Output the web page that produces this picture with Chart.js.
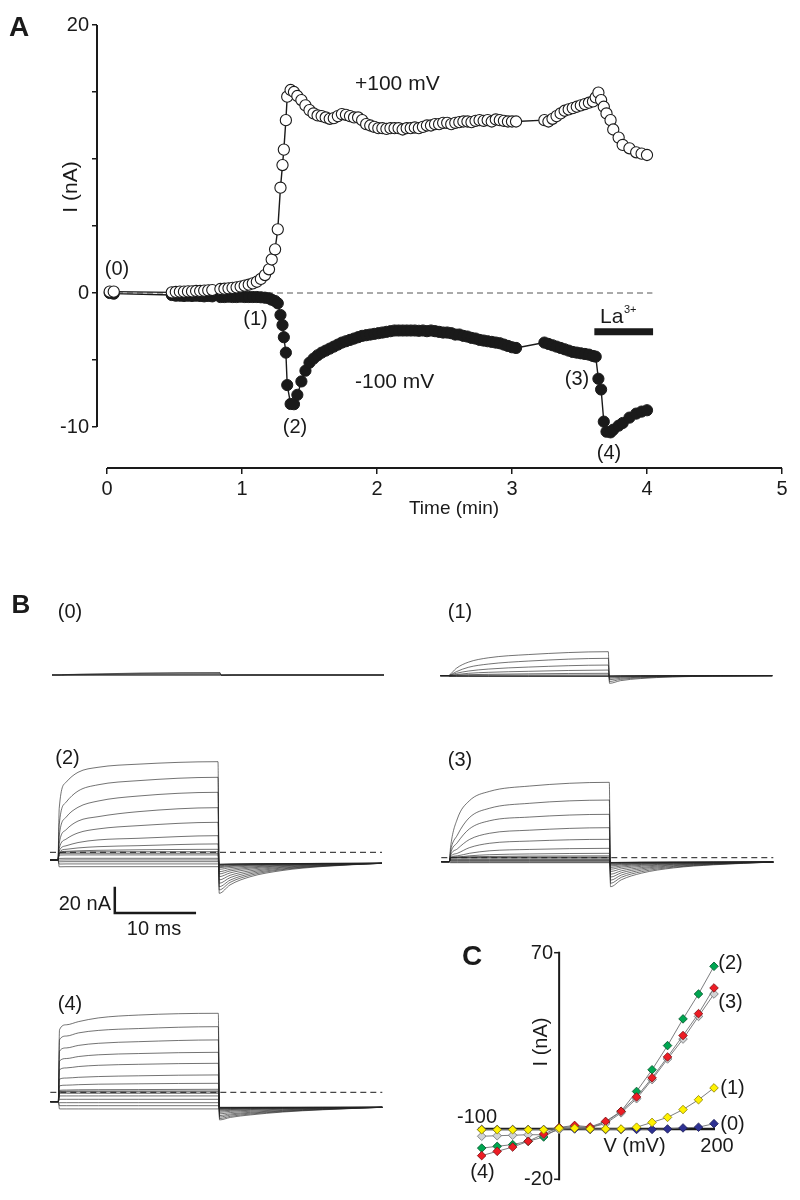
<!DOCTYPE html>
<html><head><meta charset="utf-8">
<script src="https://cdn.jsdelivr.net/npm/chart.js@4.4.1/dist/chart.umd.min.js"></script>
<style>
html,body{margin:0;padding:0;background:#fff;}
#wrap{position:relative;width:800px;height:1200px;overflow:hidden;}
canvas{position:absolute;left:0;top:0;}
</style></head><body>
<div id="wrap">
<canvas id="cA" width="800" height="1200"></canvas>
<canvas id="cB" width="800" height="1200"></canvas>
<canvas id="cC" width="800" height="1200"></canvas>
</div>
<script>
// ================= DATA =================
// ---- Panel A: current at +100 / -100 mV vs time ----
const timeMin = [0.02,0.05,0.48,0.51,0.54,0.57,0.60,0.63,0.66,0.69,0.72,0.75,0.78,
 0.84,0.87,0.90,0.93,0.96,0.99,1.02,1.05,1.08,1.11,1.14,
 1.17,1.20,1.22,1.245,1.265,1.285,1.30,1.31,1.325,1.335,1.36,1.385,1.41,
 1.44,1.47,1.50,1.53,1.56,1.59,1.62,1.65,1.68,1.71,1.74,1.77,1.80,1.83,1.86,1.89,1.92,1.95,1.98,
 2.01,2.04,2.07,2.10,2.13,2.16,2.19,2.22,2.25,2.28,2.31,2.34,2.37,2.40,2.43,2.46,2.49,2.52,2.55,
 2.58,2.61,2.64,2.67,2.70,2.73,2.76,2.79,2.82,2.85,2.88,2.91,2.94,2.97,3.00,3.03,
 3.24,3.27,3.30,3.33,3.36,3.39,3.42,3.45,3.48,3.51,3.54,3.57,3.60,3.62,3.64,3.66,3.68,3.70,3.73,3.75,
 3.79,3.82,3.87,3.92,3.96,4.00];
const currentPlus100 = [0.1,0.1,0.05,0.08,0.1,0.1,0.12,0.12,0.15,0.15,0.18,0.2,0.22,
 0.3,0.32,0.35,0.38,0.42,0.48,0.55,0.62,0.72,0.84,1.05,
 1.34,1.77,2.5,3.26,4.75,7.86,9.55,10.7,12.9,14.65,15.15,15.0,14.7,
 14.4,14.0,13.65,13.4,13.25,13.2,13.1,13.0,13.05,13.2,13.35,13.3,13.2,13.1,13.1,12.9,12.6,12.5,12.4,
 12.3,12.3,12.25,12.3,12.3,12.3,12.2,12.3,12.3,12.35,12.3,12.4,12.5,12.5,12.6,12.6,12.7,12.7,12.6,
 12.7,12.75,12.8,12.8,12.75,12.85,12.9,12.85,12.9,12.8,12.95,12.9,12.85,12.8,12.8,12.8,
 12.9,12.8,13.0,13.2,13.4,13.6,13.7,13.8,13.9,14.0,14.1,14.2,14.3,14.6,14.95,14.4,13.9,13.4,12.9,12.2,
 11.6,11.05,10.8,10.5,10.4,10.3];
const currentMinus100 = [0.0,-0.05,-0.15,-0.2,-0.2,-0.22,-0.2,-0.22,-0.2,-0.22,-0.25,-0.22,-0.25,
 -0.3,-0.3,-0.28,-0.3,-0.3,-0.28,-0.3,-0.3,-0.3,-0.3,-0.32,
 -0.35,-0.4,-0.5,-0.6,-0.77,-1.64,-2.39,-3.3,-4.45,-6.87,-8.28,-8.3,-7.6,
 -6.6,-5.8,-5.2,-4.9,-4.65,-4.45,-4.3,-4.15,-4.0,-3.85,-3.7,-3.6,-3.5,-3.4,-3.3,-3.2,-3.15,-3.1,-3.05,
 -3.0,-2.95,-2.9,-2.85,-2.8,-2.8,-2.8,-2.8,-2.8,-2.8,-2.82,-2.8,-2.85,-2.8,-2.85,-2.9,-2.95,-2.95,-3.0,
 -3.1,-3.1,-3.2,-3.25,-3.35,-3.4,-3.5,-3.55,-3.6,-3.65,-3.7,-3.75,-3.85,-3.95,-4.05,-4.1,
 -3.7,-3.8,-3.9,-4.0,-4.1,-4.2,-4.3,-4.4,-4.45,-4.5,-4.55,-4.6,-4.7,-4.75,-6.4,-7.2,-9.6,-10.35,-10.4,-10.2,
 -9.9,-9.7,-9.3,-9.0,-8.85,-8.75];
const zeroLineMin = [0, 4.04];
const laBarMin = [3.61, 4.045];
const laBarLevel = -2.9;
const tickTimeA = [0,1,2,3,4,5];
const tickCurrentA = [-10,-5,0,5,10,15,20];
const labelledCurrentA = [20,0,-10];

// ---- Panel B: current traces (nA) sampled at these times (ms from step onset) ----
const traceTimeMs = [-1,0,0.15,1,2.5,5,10,20,20.15,21.5,24,28,33,40.5];
// each row: [0.15, 1, 2.5, 5, 10, 20 ms during step | tail at 0.15, 1.5, 4, 8, 13 ms]
const holdP0 = 0, tailEndP0 = 0;
const tracesP0 = [
 [0.2,0.4,0.6,0.9,1.6,2.0,-0.3,-0.1,0,0,0],
 [0.1,0.3,0.5,0.7,1.2,1.4,-0.2,0,0,0,0],
 [0.1,0.2,0.3,0.4,0.6,0.8,-0.1,0,0,0,0],
 [0,0.1,0.1,0.2,0.2,0.3,0,0,0,0,0],
 [-0.3,-0.3,-0.3,-0.3,-0.3,-0.3,0,0,0,0,0]];
const holdP1 = 0, tailEndP1 = 0;
const tracesP1 = [
 [0.5,5.9,10.8,14.3,16.9,19.2,-6.1,-4.0,-2.3,-1.0,-0.4],
 [0.3,3.2,6.7,9.3,11.7,13.9,-4.6,-3.0,-1.7,-0.8,-0.3],
 [0.2,1.9,3.7,5.3,6.9,8.5,-3.2,-2.1,-1.2,-0.5,-0.2],
 [0.1,0.9,1.9,2.7,3.5,4.5,-2.0,-1.3,-0.8,-0.3,-0.1],
 [0,0.4,0.8,1.1,1.5,1.9,-1.2,-0.8,-0.5,-0.2,-0.1],
 [0,0.2,0.3,0.4,0.5,0.6,-0.6,-0.4,-0.2,-0.1,0],
 [-0.2,-0.2,-0.2,-0.2,-0.2,-0.2,-0.3,-0.2,-0.1,0,0],
 [-0.4,-0.4,-0.4,-0.4,-0.4,-0.4,-0.3,-0.2,-0.1,0,0],
 [-0.6,-0.6,-0.6,-0.6,-0.6,-0.6,-0.2,-0.1,0,0,0]];
const holdP2 = -6.1, tailEndP2 = -8.8;
const tracesP2 = [
 [35,56,64,68,70.5,72.5,-32.8,-26.1,-19.6,-14.6,-11.4],
 [22,40,49,54,57.3,60,-30.1,-24.1,-18.4,-13.9,-11.1],
 [13,28,36,41,45,48,-27.5,-22.3,-17.2,-13.3,-10.9],
 [7,18,25,28.5,32.5,35.7,-24.8,-20.3,-16.0,-12.6,-10.6],
 [3,10.5,15.5,18.7,21.3,24,-22.1,-18.4,-14.8,-12.0,-10.3],
 [1,5.2,7.8,9.9,11.2,13.3,-19.5,-16.5,-13.6,-11.4,-10.0],
 [0,2.4,3.5,4.5,5.3,6.7,-17.3,-14.9,-12.6,-10.8,-9.7],
 [-0.5,0.8,1.2,1.6,2.0,2.4,-15.5,-13.6,-11.8,-10.4,-9.5],
 [-0.5,0.2,0.3,0.4,0.45,0.5,-13.6,-12.3,-11.0,-10.0,-9.3],
 [-0.9,-0.8,-0.8,-0.8,-0.8,-0.8,-12.3,-11.3,-10.4,-9.6,-9.2],
 [-2.2,-2.1,-2.1,-2.1,-2.1,-2.1,-11.5,-10.7,-10.0,-9.5,-9.1],
 [-4.9,-4.8,-4.8,-4.8,-4.8,-4.8,-10.7,-10.2,-9.7,-9.3,-9.0],
 [-6.2,-6.1,-6.1,-6.1,-6.1,-6.1,-10.1,-9.7,-9.4,-9.1,-8.9],
 [-7.6,-7.5,-7.5,-7.5,-7.5,-7.5,-9.9,-9.6,-9.3,-9.1,-8.9],
 [-9.4,-9.3,-9.3,-9.3,-9.3,-9.3,-9.6,-9.4,-9.2,-9.0,-8.9],
 [-11.6,-11.5,-11.5,-11.5,-11.5,-11.5,-9.6,-9.4,-9.2,-9.0,-8.9]];
const holdP3 = -3.2, tailEndP3 = -3.5;
const tracesP3 = [
 [8,31,45.5,53,57.3,60.3,-23.2,-17.7,-12.4,-8.2,-5.7],
 [5,18,32,39.5,43.5,46.1,-20.5,-15.7,-11.2,-7.6,-5.4],
 [3,12,23,29.5,32.5,34.7,-18.0,-13.9,-10.0,-7.0,-5.1],
 [1.5,7,14.5,19.5,22,24,-15.5,-12.1,-8.9,-6.4,-4.8],
 [0.5,3.5,8,11.5,13.3,14.7,-13.2,-10.5,-7.9,-5.8,-4.6],
 [0,1.5,3.5,5.5,6.6,7.5,-11.0,-8.9,-6.9,-5.3,-4.3],
 [0,0.6,1.5,2.4,3.0,3.5,-9.2,-7.6,-6.1,-4.9,-4.1],
 [0,0.3,0.7,1.0,1.3,1.5,-7.8,-6.6,-5.4,-4.5,-4.0],
 [0,0.2,0.3,0.4,0.45,0.5,-6.6,-5.7,-4.9,-4.2,-3.8],
 [0,0,0,0,0,0,-5.7,-5.1,-4.5,-4.0,-3.7],
 [-1,-1,-1,-1,-1,-1,-5.0,-4.6,-4.2,-3.9,-3.7],
 [-1.6,-1.6,-1.6,-1.6,-1.6,-1.6,-4.5,-4.2,-4.0,-3.7,-3.6],
 [-2.2,-2.2,-2.2,-2.2,-2.2,-2.2,-4.2,-4.0,-3.8,-3.7,-3.6],
 [-2.8,-2.8,-2.8,-2.8,-2.8,-2.8,-4.0,-3.9,-3.7,-3.6,-3.6],
 [-3.5,-3.5,-3.5,-3.5,-3.5,-3.5,-3.9,-3.8,-3.7,-3.6,-3.5],
 [-4.0,-4.0,-4.0,-4.0,-4.0,-4.0,-3.8,-3.7,-3.6,-3.6,-3.5]];
const holdP4 = -7.5, tailEndP4 = -12.0;
const tracesP4 = [
 [50,54,56.5,59.5,61.8,63.2,-22.1,-20.1,-18.1,-15.8,-14.0],
 [42,45,47.5,49.5,51,52.5,-21.0,-19.2,-17.4,-15.4,-13.8],
 [33,35.5,37.5,39.2,40.5,41.9,-19.8,-18.2,-16.7,-15.0,-13.6],
 [25,27,28.6,30,31,32,-18.6,-17.3,-16.0,-14.5,-13.3],
 [18,19.5,20.6,21.6,22.4,23.2,-17.3,-16.2,-15.2,-14.0,-13.1],
 [10.5,11.4,12,12.6,13.2,13.9,-16.0,-15.2,-14.4,-13.5,-12.8],
 [5.2,5.7,6.1,6.5,6.8,7.2,-15.0,-14.4,-13.8,-13.1,-12.6],
 [1.6,1.8,2.0,2.1,2.2,2.4,-14.2,-13.8,-13.3,-12.8,-12.4],
 [0.8,0.9,1.0,1.0,1.05,1.1,-13.6,-13.3,-13.0,-12.6,-12.3],
 [0.3,0.3,0.3,0.3,0.3,0.3,-13.2,-13.0,-12.7,-12.5,-12.2],
 [-0.8,-0.8,-0.8,-0.8,-0.8,-0.8,-12.9,-12.7,-12.5,-12.3,-12.2],
 [-2.9,-2.9,-2.9,-2.9,-2.9,-2.9,-12.6,-12.5,-12.4,-12.2,-12.1],
 [-5.6,-5.6,-5.6,-5.6,-5.6,-5.6,-12.4,-12.3,-12.2,-12.2,-12.1],
 [-8.3,-8.3,-8.3,-8.3,-8.3,-8.3,-12.2,-12.2,-12.1,-12.1,-12.0],
 [-10.7,-10.7,-10.7,-10.7,-10.7,-10.7,-12.1,-12.1,-12.1,-12.0,-12.0],
 [-13.3,-13.3,-13.3,-13.3,-13.3,-13.3,-12.0,-12.0,-12.0,-12.0,-12.0]];
const zeroLineMs = [-1, 40.5];
const scaleBarMs = [7.1, 7.1, 17.1];
const scaleBarNA = [-28.6, -48.6, -48.6];

// ---- Panel C: I-V relations ----
const ivVolt = [-100,-80,-60,-40,-20,0,20,40,60,80,100,120,140,160,180,200];
const ivCurrent0 = [-0.2,-0.2,-0.2,-0.2,-0.2,0,0,-0.2,-0.2,-0.2,-0.2,-0.2,0,0.4,0.7,2.1];
const ivCurrent1 = [-0.3,-0.3,-0.3,-0.3,-0.3,0.3,0.3,0,0,0,0.7,2.6,4.6,7.7,11.6,16.3];
const ivCurrent2 = [-7.6,-6.9,-6.2,-4.9,-3.2,0.4,1.0,0.6,2.6,7.0,14.9,23.5,33.1,43.7,53.6,64.6];
const ivCurrent3 = [-2.9,-2.7,-2.5,-2.3,-2.3,-0.3,0.6,0.6,2.1,6.4,12.0,19.6,27.8,35.7,44.7,53.6];
const ivCurrent4 = [-10.6,-8.9,-7.2,-4.9,-2.0,0.6,1.4,0.8,3.0,7.0,12.7,20.3,28.6,37.1,45.8,56.0];
const ivAxisVolt = [-104.8, 201.3];
const ivAxisCurrent = [-20, 70];

// ================= STYLE / LAYOUT =================
const FONT = '"Liberation Sans", Arial, Helvetica, sans-serif';
const INK = '#1a1a1a';
Chart.defaults.font.family = FONT;
Chart.defaults.color = INK;

function textPlugin(id, items){
  return {id, afterDraw(chart){
    const ctx = chart.ctx; ctx.save(); ctx.fillStyle = INK;
    for (const it of items){
      ctx.font = (it.bold?'bold ':'') + it.size + 'px ' + FONT;
      ctx.textAlign = it.align || 'center';
      ctx.textBaseline = it.base || 'middle';
      if (it.rot){ ctx.save(); ctx.translate(it.x,it.y); ctx.rotate(it.rot); ctx.fillText(it.t,0,0); ctx.restore(); }
      else ctx.fillText(it.t, it.x, it.y);
    }
    ctx.restore();
  }};
}
const pts = (xs, ys) => xs.map((x,i)=>({x, y: Array.isArray(ys)? ys[i] : ys}));
const common = {responsive:false, animation:false, events:[], plugins:{legend:{display:false}, tooltip:{enabled:false}}};

// ---------- Chart A ----------
const geoA = {x0:107, x5:782, y20:25, y0:293, xAxisY:468, yAxisX:97};
const kxA = (geoA.x5-geoA.x0)/5, kyA = (geoA.y0-geoA.y20)/20;
const xMinA = -(geoA.x0-geoA.yAxisX)/kxA;
const yMinA = -(geoA.xAxisY-geoA.y0)/kyA;
const YW = 40, XH = 50;
new Chart(document.getElementById('cA'), {
  type:'line',
  data:{datasets:[
    {data:pts(timeMin,currentPlus100), borderColor:INK, borderWidth:1.4, pointRadius:5.6, pointBackgroundColor:'#fff', pointBorderColor:INK, pointBorderWidth:1.1, clip:false},
    {data:pts(timeMin,currentMinus100), borderColor:INK, borderWidth:1.4, pointRadius:5.6, pointBackgroundColor:INK, pointBorderColor:INK, pointBorderWidth:1, clip:false},
    {data:pts(zeroLineMin,0), borderColor:'#555', borderWidth:1, borderDash:[6,4], pointRadius:0},
    {data:pts(laBarMin,laBarLevel), borderColor:INK, borderWidth:7, borderCapStyle:'butt', pointRadius:0},
    {data:[{x:xMinA,y:20},{x:xMinA,y:-10}], borderColor:INK, borderWidth:2, pointRadius:0, clip:false},
    {data:[{x:0,y:yMinA},{x:5,y:yMinA}], borderColor:INK, borderWidth:2, pointRadius:0, clip:false}
  ]},
  options:Object.assign({}, common, {
    layout:{autoPadding:false, padding:{left:geoA.yAxisX-YW, right:800-geoA.x5, top:geoA.y20, bottom:1200-geoA.xAxisY-XH}},
    scales:{
      x:{type:'linear', min:xMinA, max:5, position:'bottom',
        afterBuildTicks:s=>{s.ticks = tickTimeA.map(v=>({value:v}));},
        afterFit:s=>{s.height = XH;},
        border:{display:false},
        grid:{drawOnChartArea:false, drawTicks:true, tickLength:6, color:INK, lineWidth:1.5},
        ticks:{autoSkip:false, maxRotation:0, padding:3, color:INK, font:{size:20}, callback:v=>String(v)}},
      y:{type:'linear', min:yMinA, max:20, position:'left',
        afterBuildTicks:s=>{s.ticks = tickCurrentA.map(v=>({value:v}));},
        afterFit:s=>{s.width = YW;},
        border:{display:false},
        grid:{drawOnChartArea:false, drawTicks:true, tickLength:5, color:INK, lineWidth:1.5},
        ticks:{autoSkip:false, padding:3, color:INK, font:{size:20}, callback:v=>labelledCurrentA.includes(v)?String(v):''}}
    }
  }),
  plugins:[textPlugin('labelsA',[
    {t:'A', x:19, y:28, size:28, bold:true},
    {t:'I (nA)', x:71, y:187, size:21, rot:-Math.PI/2},
    {t:'Time (min)', x:454, y:509, size:19},
    {t:'+100 mV', x:355, y:90, size:21, align:'left', base:'alphabetic'},
    {t:'-100 mV', x:355, y:388, size:21, align:'left', base:'alphabetic'},
    {t:'(0)', x:117, y:269, size:20},
    {t:'(1)', x:255.5, y:319, size:20},
    {t:'(2)', x:295, y:427, size:20},
    {t:'(3)', x:577, y:379, size:20},
    {t:'(4)', x:609, y:453, size:20},
    {t:'La', x:600, y:323, size:21, align:'left', base:'alphabetic'},
    {t:'3+', x:624, y:313, size:11, align:'left', base:'alphabetic'}
  ])]
});

// ---------- Chart B (five trace panels) ----------
const PX_PER_MS = 8, PX_PER_NA = 1.25;
const TRACE = 'rgba(35,35,35,0.8)';
const panelsB = [
  {key:'0', onsetX:60,    zeroY:675,    hold:holdP0, tailEnd:tailEndP0, rows:tracesP0, dashed:false},
  {key:'1', onsetX:448.3, zeroY:675.7,  hold:holdP1, tailEnd:tailEndP1, rows:tracesP1, dashed:false},
  {key:'2', onsetX:58,    zeroY:852.3,  hold:holdP2, tailEnd:tailEndP2, rows:tracesP2, dashed:true},
  {key:'3', onsetX:449.3, zeroY:857.7,  hold:holdP3, tailEnd:tailEndP3, rows:tracesP3, dashed:true},
  {key:'4', onsetX:58.3,  zeroY:1092.3, hold:holdP4, tailEnd:tailEndP4, rows:tracesP4, dashed:true}
];
const scalesB = {}, dsB = [];
panelsB.forEach(p=>{
  const xid='xb'+p.key, yid='yb'+p.key;
  scalesB[xid] = {type:'linear', axis:'x', display:false, min:-p.onsetX/PX_PER_MS, max:(800-p.onsetX)/PX_PER_MS};
  scalesB[yid] = {type:'linear', axis:'y', display:false, min:-(1200-p.zeroY)/PX_PER_NA, max:p.zeroY/PX_PER_NA};
  p.rows.forEach(r=>{
    const vals = [p.hold, p.hold].concat(r, [p.tailEnd]);
    dsB.push({data:pts(traceTimeMs, vals), xAxisID:xid, yAxisID:yid, borderColor:TRACE, borderWidth:0.8, pointRadius:0, cubicInterpolationMode:'monotone'});
  });
  if (p.dashed) dsB.push({data:pts(zeroLineMs,0), xAxisID:xid, yAxisID:yid, borderColor:INK, borderWidth:1, borderDash:[6,4], pointRadius:0});
});
dsB.push({data:pts(scaleBarMs, scaleBarNA), xAxisID:'xb2', yAxisID:'yb2', borderColor:INK, borderWidth:2.5, pointRadius:0, borderCapStyle:'square'});
new Chart(document.getElementById('cB'), {
  type:'line',
  data:{datasets:dsB},
  options:Object.assign({}, common, {layout:{autoPadding:false, padding:0}, scales:scalesB}),
  plugins:[textPlugin('labelsB',[
    {t:'B', x:21, y:606, size:26, bold:true},
    {t:'(0)', x:70, y:612, size:20},
    {t:'(1)', x:460, y:612, size:20},
    {t:'(2)', x:67.5, y:758, size:20},
    {t:'(3)', x:460, y:760, size:20},
    {t:'(4)', x:70, y:1004, size:20},
    {t:'20 nA', x:111, y:910, size:20, align:'right', base:'alphabetic'},
    {t:'10 ms', x:154, y:935, size:20, base:'alphabetic'}
  ])]
});

// ---------- Chart C (I-V) ----------
const geoC = {xm100:481.7, x200:714, y70:952.7, ym20:1179.3};
const kxC = (geoC.x200-geoC.xm100)/300, kyC = (geoC.ym20-geoC.y70)/90;
const y0C = geoC.y70 + 70*kyC;
const LINEC = '#6d6e71';
const ivSeries = [
  {v:ivCurrent1, fill:'#fff200', edge:'#8a7d00'},
  {v:ivCurrent4, fill:'#ed1c24', edge:'#7a0d10'},
  {v:ivCurrent3, fill:'#d1d3d4', edge:'#6d6e71'},
  {v:ivCurrent2, fill:'#00a651', edge:'#00532a'},
  {v:ivCurrent0, fill:'#2e3192', edge:'#1a1c55'}
];
const dsC = ivSeries.map(s=>({data:pts(ivVolt, s.v), borderColor:LINEC, borderWidth:0.9, pointStyle:'rectRot', pointRadius:4.3, pointBackgroundColor:s.fill, pointBorderColor:s.edge, pointBorderWidth:0.8}));
dsC.push({data:pts(ivAxisVolt,0), borderColor:INK, borderWidth:2.5, pointRadius:0, borderCapStyle:'butt'});
dsC.push({data:ivAxisCurrent.map(i=>({x:0,y:i})), borderColor:INK, borderWidth:2, pointRadius:0, borderCapStyle:'square'});
dsC.push({data:[{x:-6.5,y:70},{x:0,y:70}], borderColor:INK, borderWidth:1.5, pointRadius:0});
dsC.push({data:[{x:-6.5,y:-20},{x:0,y:-20}], borderColor:INK, borderWidth:1.5, pointRadius:0});
new Chart(document.getElementById('cC'), {
  type:'line',
  data:{datasets:dsC},
  options:Object.assign({}, common, {layout:{autoPadding:false, padding:0}, scales:{
    x:{type:'linear', display:false, min:-100-geoC.xm100/kxC, max:-100+(800-geoC.xm100)/kxC},
    y:{type:'linear', display:false, min:-(1200-y0C)/kyC, max:y0C/kyC}
  }}),
  plugins:[textPlugin('labelsC',[
    {t:'C', x:472, y:957, size:28, bold:true},
    {t:'70', x:553, y:953, size:20, align:'right'},
    {t:'-20', x:553, y:1179, size:20, align:'right'},
    {t:'-100', x:477, y:1117, size:20},
    {t:'200', x:717, y:1146, size:20},
    {t:'V (mV)', x:634.5, y:1146, size:20},
    {t:'I (nA)', x:541, y:1042, size:20, rot:-Math.PI/2},
    {t:'(2)', x:730.5, y:963, size:20},
    {t:'(3)', x:730.5, y:1002, size:20},
    {t:'(1)', x:732.5, y:1088, size:20},
    {t:'(0)', x:732.5, y:1124, size:20},
    {t:'(4)', x:482.5, y:1172, size:20}
  ])]
});
</script>
</body></html>
